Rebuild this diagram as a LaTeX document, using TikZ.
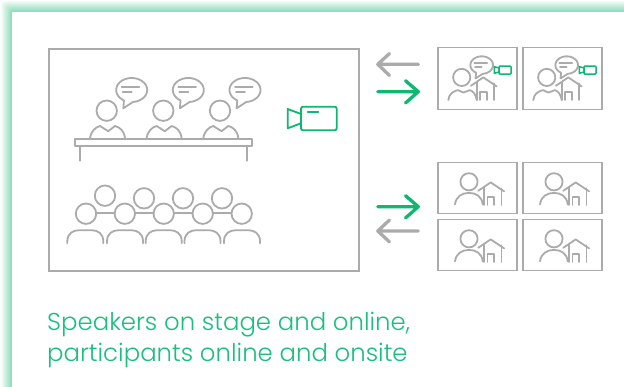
\documentclass[tikz,border=0pt]{standalone}
\usepackage{fontspec}
\setmainfont{Poppins Light}
\definecolor{grayline}{HTML}{ABABAB}
\definecolor{greenline}{HTML}{0DB870}
\definecolor{greentext}{HTML}{1ABF7E}
\definecolor{glow}{HTML}{7FD9B2}
\tikzset{
  gl/.style={draw=grayline,line width=1.8pt,line join=round,line cap=round},
  grl/.style={draw=greenline,line width=1.8pt,line join=round,line cap=round},
  framebox/.style={draw=grayline,line width=1.6pt},
  bigarrow/.style={line width=3.3pt,line cap=round,line join=round},
  pics/bubble/.style={code={
    \draw[gl] plot[domain=120:445,samples=50,smooth] ({15.5*cos(\x)},{12*sin(\x)}) -- (-8.4,18.3) -- cycle;
    \draw[gl] (-10,-3) -- (7.6,-3);
    \draw[gl] (-9,2.3) -- (0,2.3);
  }},
  pics/speaker/.style={code={
    \draw[gl] (0,0) circle[radius=10.2];
    \draw[gl] (-16.7,27.5) .. controls (-15.5,20) and (-11,16.5) .. (-6.7,15.3)
      -- (1.5,20.5) -- (8.3,15.3) .. controls (13,16.5) and (17.5,20) .. (18.3,27.5);
  }},
  pics/sitter/.style={code={
    \draw[gl] (0,0) circle[radius=10.2];
  }},
  pics/body/.style={code={
    \draw[gl] (-18,13) -- (-18,11) .. controls (-18,3) and (-12,0) .. (-7,0)
      -- (7,0) .. controls (12,0) and (18,3) .. (18,11) -- (18,13);
  }},
  pics/house/.style={code={
    \draw[gl] (-12.4,8.4) -- (0,0) -- (13.4,9);
    \draw[gl] (-6.6,5) -- (-6.6,22.5);
    \draw[gl] (10.7,6) -- (10.7,22.5);
    \draw[gl] (-3.3,22.5) -- (-3.3,14.5) -- (3.3,14.5) -- (3.3,22.5);
  }},
  pics/smallcam/.style={code={
    \draw[grl,line width=1.5pt] (-4.7,0.7) -- (0,1.8) -- (0,5.8) -- (-4.7,7.3) -- cycle;
    \draw[grl,line width=1.5pt,rounded corners=0.8pt] (0,0) rectangle (12,8);
  }},
  pics/liveuser/.style={code={
    \draw[framebox] (0,0) rectangle (78.7,62);
    \draw[gl] (23.7,30) circle[radius=8.6];
    \draw[gl] (10.3,52.7) .. controls (11,46.5) and (15,44) .. (20,42.7)
      -- (25.3,45.2) -- (32,42.7) .. controls (35.5,44) and (38,47.5) .. (38.7,52.7);
    \pic at (45.3,30) {house};
    \pic[scale=0.73] at (43.7,17.7) {bubble};
    \pic at (61,18.7) {smallcam};
  }},
  pics/homeuser/.style={code={
    \draw[framebox] (0,0) rectangle (78.7,51);
    \draw[gl] (31,19.4) circle[radius=8.6];
    \draw[gl] (17,42) .. controls (18,34) and (24,30.5) .. (31,30.5)
      .. controls (38,30.5) and (44,34) .. (44.7,42);
    \pic at (52.7,20) {house};
  }},
}
\begin{document}
\begin{tikzpicture}[x=1pt,y=-1pt]
\useasboundingbox (0,0) rectangle (624,387);
% glow
\foreach \i in {0,1,...,12}{
  \pgfmathsetmacro{\p}{(\i/12)*95}
  \fill[glow!\p!white,rounded corners=3pt] (\i,\i) rectangle (660,420);
}
\fill[white] (12,12) rectangle (660,420);
\node[framebox,minimum width=310pt,minimum height=222pt,inner sep=0pt,anchor=north west] (room) at (48,48) {};
% speakers
\foreach \x in {0,56.6,113.3}{
  \pic at (106.7+\x,110.7) {speaker};
  \pic at (131.7+\x,90) {bubble};
}
\draw[gl] (75,138.7) rectangle (252.3,145.7);
\draw[gl] (80,145.7) -- (80,160.7);
\draw[gl] (246.7,145.7) -- (246.7,160.7);
% room camera
\draw[grl] (287.7,109) -- (301,114) -- (301,123.3) -- (287.7,128.3) -- cycle;
\draw[grl,rounded corners=2pt] (301,106.7) rectangle (336.7,130.3);
\draw[grl] (307.7,111.7) -- (318.3,111.7);
% audience
\foreach \x/\y in {105/195.7,144/198.3,183/198.3,222/198.3}{
  \pic at (\x,\y) {sitter};
}
\foreach \x in {86,124.8,163.7,202.7,241.7}{
  \pic at (\x,213.7) {sitter};
}
\foreach \x in {96.2,135,173.9,212.9}{
  \draw[gl] (\x,212.7) -- (\x+18.6,212.7);
}
\foreach \x in {85.3,125,163.7,202.5,242}{
  \pic at (\x,230.3) {body};
}
% arrows
\draw[bigarrow,draw=grayline] (418.3,64.3) -- (377.8,64.3) (389.5,53.5) -- (377.8,64.3) -- (389.5,75.5);
\draw[bigarrow,draw=greenline] (377.8,91.7) -- (418.3,91.7) (405.5,80.7) -- (418.3,91.7) -- (405.5,103);
\draw[bigarrow,draw=greenline] (377.8,206.7) -- (418.3,206.7) (405.5,195.7) -- (418.3,206.7) -- (405.5,218);
\draw[bigarrow,draw=grayline] (418.3,231) -- (377.8,231) (389.5,220) -- (377.8,231) -- (389.5,242);
% remote users
\pic at (438,47.4) {liveuser};
\pic at (523,47.4) {liveuser};
\pic at (438,162.4) {homeuser};
\pic at (523,162.4) {homeuser};
\pic at (438,219.4) {homeuser};
\pic at (523,219.4) {homeuser};
% caption
\node[anchor=north west,inner sep=0pt,text=greentext,font=\fontsize{24.4pt}{31pt}\selectfont,align=left] (caption) at (47,311.5) {Speakers on stage and online,\\participants online and onsite};
\end{tikzpicture}
\end{document}
